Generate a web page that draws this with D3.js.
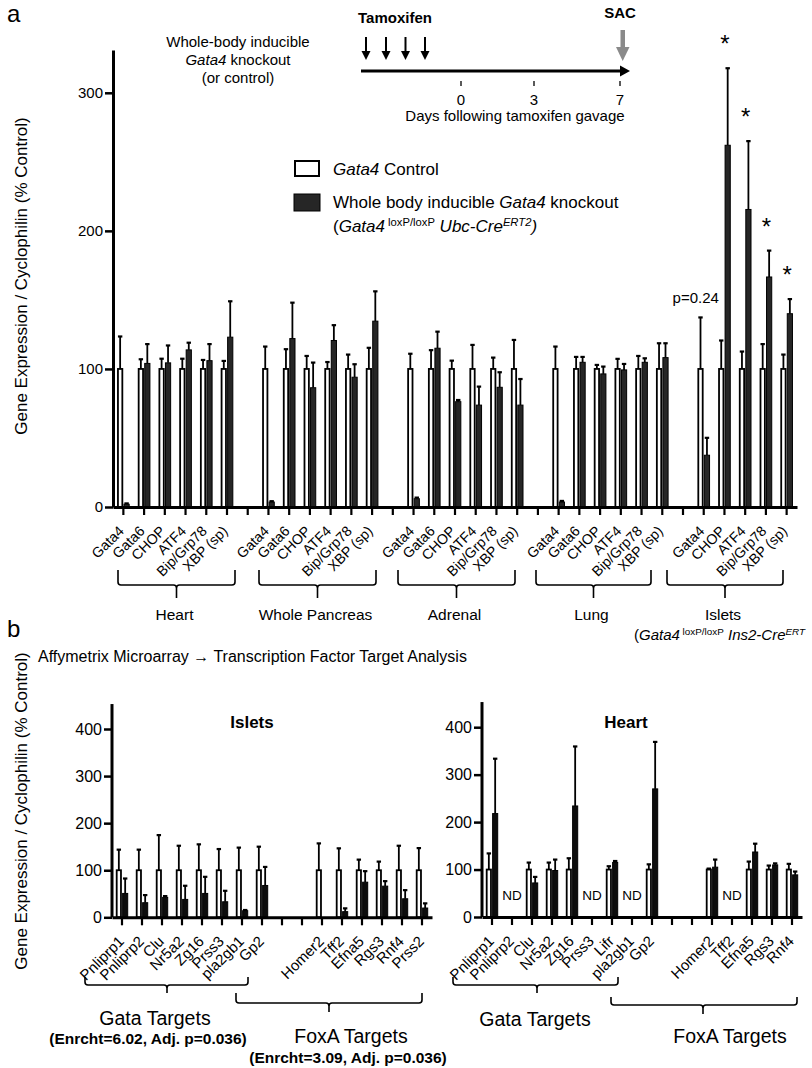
<!DOCTYPE html>
<html><head><meta charset="utf-8">
<script src="https://cdn.jsdelivr.net/npm/d3@7"></script>
<style>
body{margin:0;background:#fff}
svg{display:block}
text{font-family:"Liberation Sans",Arial,Helvetica,sans-serif;fill:#000}
</style>
</head><body>
<svg id="c" width="812" height="1068"></svg>
<script>
// ===================== DATA (panel a) =====================
const tissues = ["Heart","Whole Pancreas","Adrenal","Lung","Islets"];
const genesA = ["Gata4","Gata6","CHOP","ATF4","Bip/Grp78","XBP (sp)"];
const genesIsletsA = ["Gata4","CHOP","ATF4","Bip/Grp78","XBP (sp)"];
const yTicksA = [0,100,200,300];

const heartCtrl    = [100,100,100,100,100,100];
const heartCtrlSem = [23.5,7,7.4,7.4,6.5,5.8];
const heartKO      = [2,104,104.4,113.8,106,123];
const heartKOSem   = [0.6,14,12.6,5.2,12,26];

const pancCtrl    = [100,100,100,100,100,100];
const pancCtrlSem = [16.2,14.3,9.4,5,10.4,15.3];
const pancKO      = [3.6,122,86.4,120.6,94,134.6];
const pancKOSem   = [0.6,26,18.2,11.1,9.4,21.6];

const adrCtrl    = [100,100,100,100,100,100];
const adrCtrlSem = [11,13.6,6,17.4,8.2,21];
const adrKO      = [6,115,76.3,73.8,86.7,73.8];
const adrKOSem   = [0.8,12,1.2,13.4,10.9,18.9];

const lungCtrl    = [100,100,100,100,100,100];
const lungCtrlSem = [16.2,8.7,2.9,7.3,9.4,18.6];
const lungKO      = [3.6,104.8,96.4,99.3,104.8,108.2];
const lungKOSem   = [0.8,3.9,5.3,4.3,2.9,10.4];

const isletCtrl    = [100,100,100,100,100];
const isletCtrlSem = [37.3,20.6,12.6,18,10.4];
const isletKO      = [37.5,262,215.5,166.6,140];
const isletKOSem   = [12.6,55.8,49.5,19.1,10.6];
const isletSig     = ["p=0.24","*","*","*","*"];

// ===================== DATA (panel b) =====================
const yTicksB = [0,100,200,300,400];
// Islets
const bIsletGata = ["Pnliprp1","Pnliprp2","Clu","Nr5a2","Zg16","Prss3","pla2gb1","Gp2"];
const bIsletGataCtrl    = [100,100,100,100,100,100,100,100];
const bIsletGataCtrlSem = [43.7,43.7,74.6,52,55,45,48,50];
const bIsletGataKO      = [50.7,31,42.3,38,50.7,33,14,67.6];
const bIsletGataKOSem   = [31.7,16.2,2.7,29,35.3,23.3,1.5,39.4];
const bIsletFox = ["Homer2","Tff2","Efna5","Rgs3","Rnf4","Prss2"];
const bIsletFoxCtrl    = [100,100,100,100,100,100];
const bIsletFoxCtrlSem = [57,46.5,22.5,18.3,52,47];
const bIsletFoxKO      = [null,12,74.6,66.2,39.4,19.7];
const bIsletFoxKOSem   = [null,7,23.4,10.6,18.3,9.9];
// Heart
const bHeartGata = ["Pnliprp1","Pnliprp2","Clu","Nr5a2","Zg16","Prss3","Lifr","pla2gb1","Gp2"];
const bHeartGataCtrl    = [100,null,100,100,100,null,100,null,100];
const bHeartGataCtrlSem = [34,null,14.7,14.7,23.8,null,7,null,11];
const bHeartGataKO      = [218,null,71.8,98,234,null,115,null,270];
const bHeartGataKOSem   = [115.6,null,12.7,23,125.4,null,3,null,99];
const bHeartFox = ["Homer2","Tff2","Efna5","Rgs3","Rnf4"];
const bHeartFoxCtrl    = [100,null,100,100,100];
const bHeartFoxCtrlSem = [2,null,16.8,8.4,12];
const bHeartFoxKO      = [105,null,137,109.8,88.8];
const bHeartFoxKOSem   = [16,null,17.5,3.2,7];

// ===================== helpers =====================
const svg = d3.select("#c");

function rich(g, x, y, size, segs, anchor, weight){
  const t = g.append("text").attr("x",x).attr("y",y).attr("font-size",size)
    .attr("text-anchor",anchor||"start");
  if (weight) t.attr("font-weight",weight);
  let shift = 0;
  segs.forEach(s=>{
    const ts = t.append("tspan").text(s.t);
    if (s.i) ts.attr("font-style","italic");
    if (s.sup){
      const d = -size*0.36;
      ts.attr("font-size", size*0.66).attr("dy", d - shift);
      shift = d;
    } else if (shift){
      ts.attr("dy", -shift); shift = 0;
    }
  });
  return t;
}

function bracket(g, x1, x2, cx, top, h, stem){
  const r = 3;
  const p = d3.path();
  p.moveTo(x1, top); p.lineTo(x1, h-r); p.quadraticCurveTo(x1, h, x1+r, h);
  p.lineTo(cx-r, h); p.quadraticCurveTo(cx, h, cx, h+r); p.lineTo(cx, stem);
  p.moveTo(cx, h+r); p.quadraticCurveTo(cx, h, cx+r, h);
  p.lineTo(x2-r, h); p.quadraticCurveTo(x2, h, x2, h-r); p.lineTo(x2, top);
  g.append("path").attr("d", p.toString()).attr("fill","none").attr("stroke","#000").attr("stroke-width",1.6);
}

function drawBars(g, rows, x, y, opts){
  const sub = d3.scaleBand().domain(["c","k"]).range([0, x.bandwidth()]).paddingInner(opts.inner);
  const bw = sub.bandwidth();
  const data = rows.filter(d=>!d.gap);
  const cap = opts.cap;
  const eb = (sel, xc, mean, sem) => {
    sel.append("line").attr("x1",xc).attr("x2",xc).attr("y1",y(mean)).attr("y2",y(mean+sem))
      .attr("stroke","#000").attr("stroke-width",opts.ew);
    sel.append("line").attr("x1",xc-cap).attr("x2",xc+cap).attr("y1",y(mean+sem)).attr("y2",y(mean+sem))
      .attr("stroke","#000").attr("stroke-width",opts.ew+0.4);
  };
  data.forEach(d=>{
    const x0 = x(d.key);
    if (d.ctrl != null){
      const xc = x0 + sub("c") + bw/2;
      eb(g, xc, d.ctrl, d.ctrlSem);
      g.append("rect").attr("x", x0+sub("c")+opts.sw/2).attr("width", bw-opts.sw)
        .attr("y", y(d.ctrl)).attr("height", y(0)-y(d.ctrl))
        .attr("fill","#fff").attr("stroke","#000").attr("stroke-width",opts.sw);
    }
    if (d.ko != null){
      const xc = x0 + sub("k") + bw/2;
      eb(g, xc, d.ko, d.koSem);
      g.append("rect").attr("x", x0+sub("k")+0.5).attr("width", bw-1)
        .attr("y", y(d.ko)).attr("height", y(0)-y(d.ko))
        .attr("fill",opts.koFill).attr("stroke","#000").attr("stroke-width",1);
    }
  });
}

function styleAxis(ax, dw, tw){
  ax.select(".domain").attr("stroke-width", dw);
  ax.selectAll(".tick line").attr("stroke-width", tw);
}

function rotLabels(g, rows, x, yBase, size, dx){
  rows.filter(d=>!d.gap && d.label).forEach(d=>{
    const cx = x(d.key) + x.bandwidth()/2 + dx;
    g.append("text").attr("transform",`translate(${cx},${yBase}) rotate(-45)`)
      .attr("text-anchor","end").attr("font-size",size).text(d.label);
  });
}

// ===================== PANEL A =====================
const tissueSets = [
  [genesA, heartCtrl, heartCtrlSem, heartKO, heartKOSem, null],
  [genesA, pancCtrl, pancCtrlSem, pancKO, pancKOSem, null],
  [genesA, adrCtrl, adrCtrlSem, adrKO, adrKOSem, null],
  [genesA, lungCtrl, lungCtrlSem, lungKO, lungKOSem, null],
  [genesIsletsA, isletCtrl, isletCtrlSem, isletKO, isletKOSem, isletSig]
];
const rowsA = [];
tissueSets.forEach((s,ti)=>{
  if (ti>0) rowsA.push({key:"gap"+ti, gap:true});
  s[0].forEach((gname,i)=> rowsA.push({key:tissues[ti]+"|"+gname, label:gname, tissue:tissues[ti],
    ctrl:s[1][i], ctrlSem:s[2][i], ko:s[3][i], koSem:s[4][i], sig: s[5] ? s[5][i] : null}));
});

const xA = d3.scaleBand().domain(rowsA.map(d=>d.key)).range([113,797]).paddingInner(0.39).paddingOuter(0.195);
const yA = d3.scaleLinear().domain([0,331]).range([507,50]);

const gA = svg.append("g");
drawBars(gA, rowsA, xA, yA, {inner:0.04, sw:1.8, ew:1.8, cap:2.2, koFill:"#262626"});

// significance marks
rowsA.filter(d=>d.sig).forEach(d=>{
  const cx = xA(d.key) + xA.bandwidth()/2;
  if (d.sig === "*"){
    gA.append("text").attr("x", cx+0.5).attr("y", yA(d.ko+d.koSem)-16).attr("text-anchor","middle")
      .attr("font-size",24).text("*");
  } else {
    gA.append("text").attr("x", cx-8).attr("y", yA(d.ctrl+d.ctrlSem)-14).attr("text-anchor","middle")
      .attr("font-size",15).text(d.sig);
  }
});

const axA_y = gA.append("g").attr("transform","translate(113,0)")
  .call(d3.axisLeft(yA).tickValues(yTicksA).tickSize(8).tickSizeOuter(0).tickPadding(2));
axA_y.selectAll("text").attr("font-size",15).attr("font-family",null);
styleAxis(axA_y, 3, 2.5);
const axA_x = gA.append("g").attr("transform","translate(0,507)")
  .call(d3.axisBottom(xA).tickSize(8).tickSizeOuter(0).tickFormat(""));
styleAxis(axA_x, 3, 2.2);
rotLabels(gA, rowsA, xA, 532, 14.2, 1.5);

// y label
gA.append("text").attr("transform","translate(27,276) rotate(-90)").attr("text-anchor","middle")
  .attr("font-size",17).text("Gene Expression / Cyclophilin (% Control)");

// tissue brackets + labels
const bracketsA = [[118,235],[259,376],[398,515],[536,651],[667,783]];
tissues.forEach((t,i)=>{
  const [b1,b2] = bracketsA[i];
  const cx = (b1+b2)/2;
  bracket(gA, b1, b2, cx, 570, 585, 598);
  gA.append("text").attr("x", cx-2).attr("y", 620).attr("text-anchor","middle").attr("font-size",15.5).text(t);
});
rich(gA, 634, 640, 15, [{t:"("},{t:"Gata4",i:true},{t:" loxP/loxP",sup:true},{t:" Ins2-Cre",i:true},{t:"ERT",i:true,sup:true}]);

// panel letters
svg.append("text").attr("x",7).attr("y",22).attr("font-size",24).text("a");
svg.append("text").attr("x",7).attr("y",637).attr("font-size",24).text("b");

// ---- timeline inset ----
const gT = svg.append("g");
["Whole-body inducible", null, "(or control)"].forEach((s,i)=>{
  if (s) gT.append("text").attr("x",238).attr("y",47+i*18).attr("text-anchor","middle").attr("font-size",15).text(s);
});
rich(gT, 238, 65, 15, [{t:"Gata4",i:true},{t:"  knockout"}], "middle");
gT.append("text").attr("x",358).attr("y",23).attr("font-size",15).attr("font-weight","bold").text("Tamoxifen");
gT.append("text").attr("x",620).attr("y",18).attr("font-size",15).attr("font-weight","bold").attr("text-anchor","middle").text("SAC");
[366,386,405.5,425].forEach(x=>{
  gT.append("line").attr("x1",x).attr("x2",x).attr("y1",37).attr("y2",53).attr("stroke","#000").attr("stroke-width",2);
  gT.append("path").attr("d",`M${x-4.5},51L${x+4.5},51L${x},60Z`).attr("fill","#000");
});
gT.append("rect").attr("x",620.5).attr("y",30).attr("width",4.5).attr("height",18).attr("fill","#8a8a8a");
gT.append("path").attr("d","M616,47L629.5,47L622.7,61Z").attr("fill","#8a8a8a");
gT.append("line").attr("x1",361).attr("x2",622).attr("y1",71).attr("y2",71).attr("stroke","#000").attr("stroke-width",3);
gT.append("path").attr("d","M620,65.5L630,71L620,76.5Z").attr("fill","#000");
const days = [0,3,7];
const dayX = d3.scaleLinear().domain([0,3,7]).range([461,534,620]);
days.forEach(d=>{
  gT.append("line").attr("x1",dayX(d)).attr("x2",dayX(d)).attr("y1",81).attr("y2",86).attr("stroke","#000").attr("stroke-width",1.3);
  gT.append("text").attr("x",dayX(d)).attr("y",105).attr("text-anchor","middle").attr("font-size",15).text(d);
});
gT.append("text").attr("x",515).attr("y",121).attr("text-anchor","middle").attr("font-size",15).text("Days following tamoxifen gavage");

// ---- legend ----
const gL = svg.append("g");
gL.append("rect").attr("x",295).attr("y",161).attr("width",24).attr("height",15).attr("fill","#fff").attr("stroke","#000").attr("stroke-width",2);
gL.append("rect").attr("x",294).attr("y",194).attr("width",26).attr("height",17).attr("fill","#262626").attr("stroke","#000").attr("stroke-width",1);
rich(gL, 333, 175, 17, [{t:"Gata4",i:true},{t:" Control"}]);
rich(gL, 333, 208, 17, [{t:"Whole body inducible "},{t:"Gata4",i:true},{t:" knockout"}]);
rich(gL, 333, 232, 17, [{t:"("},{t:"Gata4",i:true},{t:" loxP/loxP",sup:true},{t:" Ubc-Cre",i:true},{t:"ERT2",i:true,sup:true},{t:")",i:true}]);

// ===================== PANEL B =====================
svg.append("text").attr("x",38).attr("y",662).attr("font-size",16)
  .text("Affymetrix Microarray \u2192 Transcription Factor Target Analysis");
svg.append("text").attr("transform","translate(27,811) rotate(-90)").attr("text-anchor","middle")
  .attr("font-size",17).text("Gene Expression / Cyclophilin (% Control)");

function buildRows(prefix, gata, gc, gcs, gk, gks, fox, fc, fcs, fk, fks){
  const r = [];
  gata.forEach((n,i)=> r.push({key:prefix+"g"+i, label:n, ctrl:gc[i], ctrlSem:gcs[i], ko:gk[i], koSem:gks[i]}));
  r.push({key:prefix+"gap1", gap:true}); r.push({key:prefix+"gap2", gap:true});
  fox.forEach((n,i)=> r.push({key:prefix+"f"+i, label:n, ctrl:fc[i], ctrlSem:fcs[i], ko:fk[i], koSem:fks[i]}));
  return r;
}
const rowsBI = buildRows("I", bIsletGata, bIsletGataCtrl, bIsletGataCtrlSem, bIsletGataKO, bIsletGataKOSem,
  bIsletFox, bIsletFoxCtrl, bIsletFoxCtrlSem, bIsletFoxKO, bIsletFoxKOSem);
const rowsBH = buildRows("H", bHeartGata, bHeartGataCtrl, bHeartGataCtrlSem, bHeartGataKO, bHeartGataKOSem,
  bHeartFox, bHeartFoxCtrl, bHeartFoxCtrlSem, bHeartFoxKO, bHeartFoxKOSem);

function panelB(rows, x0, x1, axisX, y0, yTop, title, titleX){
  const g = svg.append("g");
  const x = d3.scaleBand().domain(rows.map(d=>d.key)).range([x0,x1]).paddingInner(0.38).paddingOuter(0.19);
  const y = d3.scaleLinear().domain([0,400]).range([y0,yTop]);
  drawBars(g, rows, x, y, {inner:0.04, sw:1.8, ew:1.8, cap:2.2, koFill:"#0d0d0d"});
  // ND marks
  rows.filter(d=>!d.gap && d.ctrl==null && d.ko==null).forEach(d=>{
    g.append("text").attr("x", x(d.key)+x.bandwidth()/2).attr("y", y(0)-17).attr("text-anchor","middle")
      .attr("font-size",13.5).text("ND");
  });
  const ay = g.append("g").attr("transform",`translate(${axisX},0)`)
    .call(d3.axisLeft(y).tickValues(yTicksB).tickSize(8).tickSizeOuter(0).tickPadding(2));
  ay.select(".domain").attr("d", `M0,${y(0)}V${y(453)}`);
  ay.selectAll("text").attr("font-size",16).attr("font-family",null);
  styleAxis(ay, 3, 2.5);
  const ax = g.append("g").attr("transform",`translate(0,${y(0)})`)
    .call(d3.axisBottom(x).tickSize(8).tickSizeOuter(0).tickFormat(""));
  styleAxis(ax, 3, 2.2);
  rotLabels(g, rows, x, y(0)+25, 15, 3);
  g.append("text").attr("x",titleX).attr("y",728).attr("text-anchor","middle").attr("font-size",17)
    .attr("font-weight","bold").text(title);
  return g;
}
const gBI = panelB(rowsBI, 112, 432, 112, 917.3, 729, "Islets", 252);
const gBH = panelB(rowsBH, 482, 802, 482, 917, 727.2, "Heart", 626);

// brackets panel b
bracket(gBI, 85, 248, 167, 977, 985, 993);
bracket(gBI, 236, 422, 329, 993, 1003, 1012);
bracket(gBH, 453, 618, 537, 977, 985, 993);
bracket(gBH, 611, 797, 703, 997, 1005, 1014);
gBI.append("text").attr("x",155).attr("y",1025).attr("text-anchor","middle").attr("font-size",19.5).text("Gata Targets");
gBI.append("text").attr("x",148).attr("y",1044).attr("text-anchor","middle").attr("font-size",15.5).attr("font-weight","bold").text("(Enrcht=6.02, Adj. p=0.036)");
gBI.append("text").attr("x",351).attr("y",1043).attr("text-anchor","middle").attr("font-size",19.5).text("FoxA Targets");
gBI.append("text").attr("x",348).attr("y",1063).attr("text-anchor","middle").attr("font-size",15.5).attr("font-weight","bold").text("(Enrcht=3.09, Adj. p=0.036)");
gBH.append("text").attr("x",535).attr("y",1026).attr("text-anchor","middle").attr("font-size",19.5).text("Gata Targets");
gBH.append("text").attr("x",730).attr("y",1043).attr("text-anchor","middle").attr("font-size",19.5).text("FoxA Targets");
</script>
</body></html>
